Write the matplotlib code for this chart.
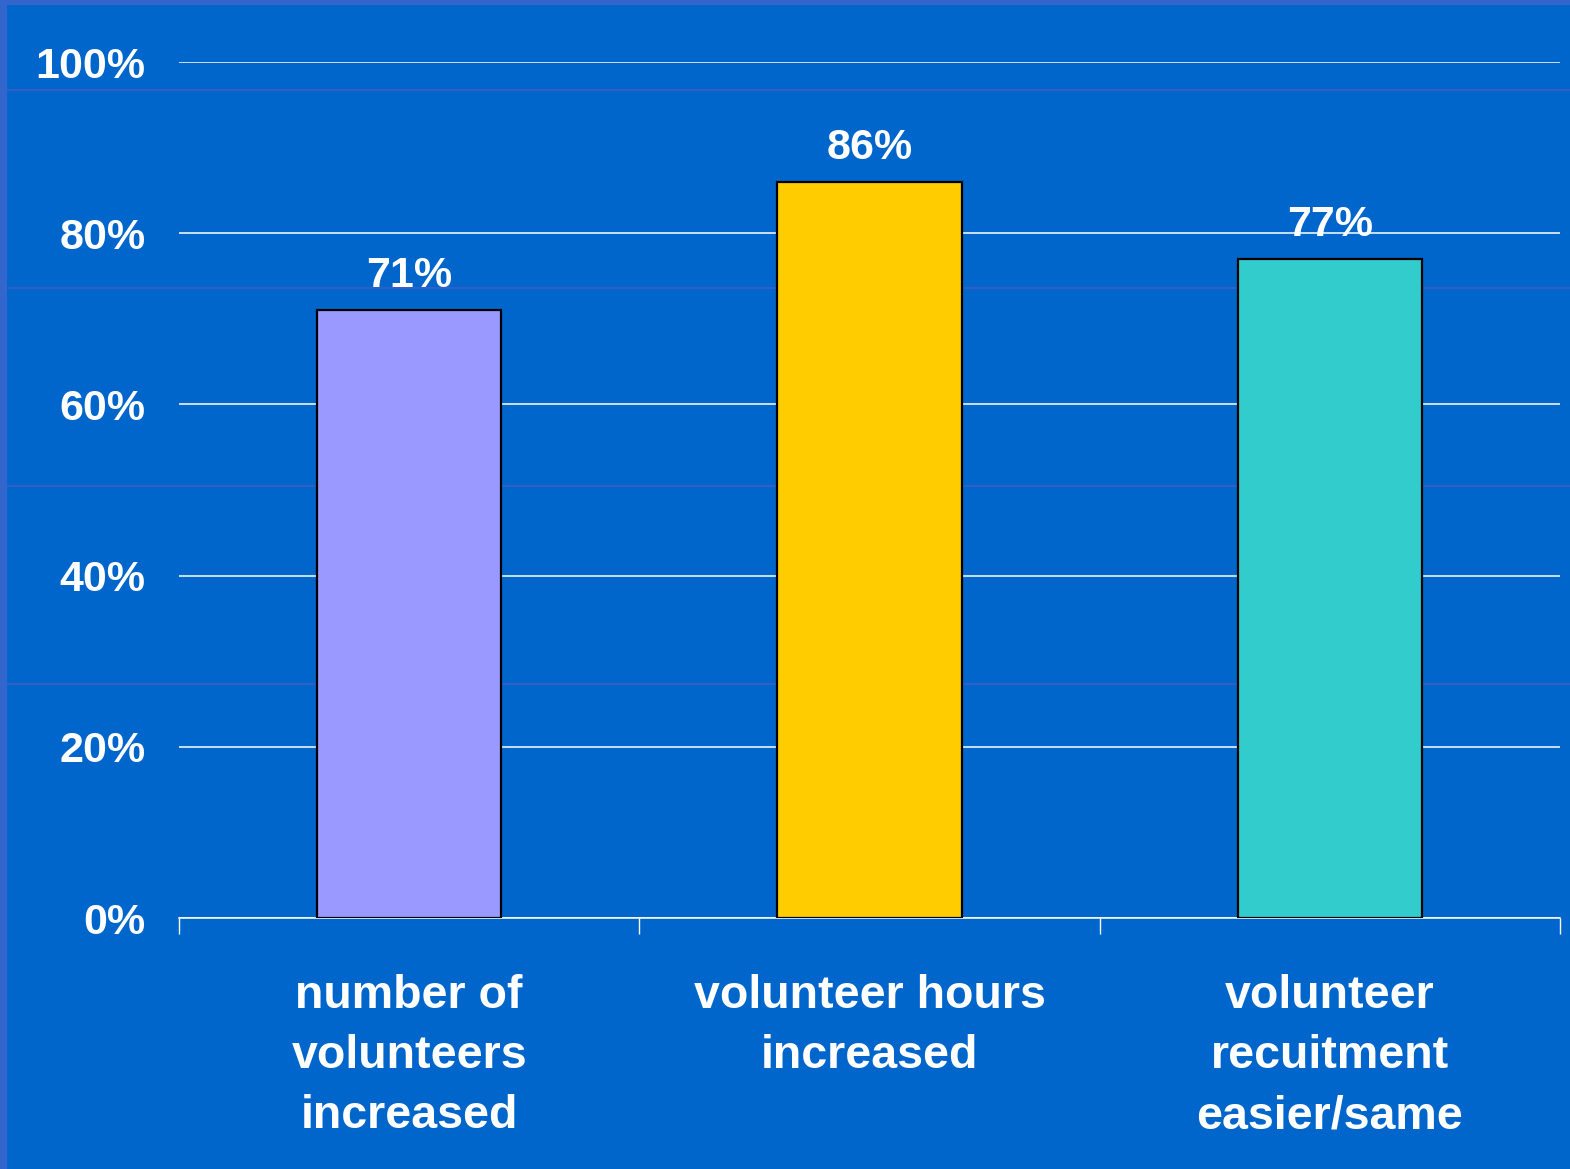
import matplotlib.pyplot as plt
from matplotlib.patches import Rectangle
from matplotlib.lines import Line2D

# survey results
categories = ['number of\nvolunteers\nincreased',
              'volunteer hours\nincreased',
              'volunteer\nrecuitment\neasier/same']
values = [71, 86, 77]
bar_colors = ['#9999FF', '#FFCC00', '#33CCCC']
y_ticks = [0, 20, 40, 60, 80, 100]

W, H = 1570, 1169
plt.rcParams['font.family'] = ['Liberation Sans', 'DejaVu Sans']
plt.rcParams['font.weight'] = 'bold'

fig = plt.figure(figsize=(W / 100, H / 100), dpi=100, facecolor='#3366CC')

# slide background with its thin border on the left and top
fig.add_artist(Rectangle((7 / W, 0), 1 - 7 / W, 1 - 5 / H, transform=fig.transFigure,
                         facecolor='#0066CC', edgecolor='none', zorder=-10))
for yp in [90, 288, 486, 684]:
    fig.add_artist(Line2D([7 / W, 1], [1 - yp / H, 1 - yp / H], transform=fig.transFigure,
                          color='#3F5DC4', lw=1.2, zorder=-9))

ax = fig.add_axes([179 / W, 1 - 918 / H, (1560 - 179) / W, (918 - 62) / H])
ax.set_facecolor('none')

x = list(range(len(values)))
bars = ax.bar(x, values, width=0.4, color=bar_colors, edgecolor='black', linewidth=1.6, zorder=3)

for b, v in zip(bars, values):
    ax.annotate(f'{v}%', (b.get_x() + b.get_width() / 2, v), xytext=(0, 10),
                textcoords='offset points', ha='center', va='bottom',
                color='white', fontsize=31, fontweight='bold')

ax.set_xlim(-0.5, len(values) - 0.5)
ax.set_ylim(0, 100)

# y axis
ax.set_yticks(y_ticks)
ax.set_yticklabels([f'{t}%' for t in y_ticks], color='white', fontsize=31, fontweight='bold')
ax.tick_params(axis='y', length=0, pad=24)
ax.yaxis.grid(True, color='white', lw=1.1, zorder=0)
ax.set_axisbelow(True)

# x axis: ticks at category boundaries, labels at category centres
ax.set_xticks([i - 0.5 for i in range(len(values) + 1)])
ax.set_xticklabels([])
ax.tick_params(axis='x', which='major', direction='out', length=11.5, width=1, color='white')
ax.set_xticks(x, minor=True)
ax.set_xticklabels(categories, minor=True, color='white', fontsize=33.5, fontweight='bold',
                   linespacing=1.48)
ax.tick_params(axis='x', which='minor', length=0, pad=40)

for s in ['top', 'right', 'left']:
    ax.spines[s].set_visible(False)
ax.spines['bottom'].set_color('white')
ax.spines['bottom'].set_linewidth(1.1)

fig.savefig('out.png', dpi=100, facecolor=fig.get_facecolor())
